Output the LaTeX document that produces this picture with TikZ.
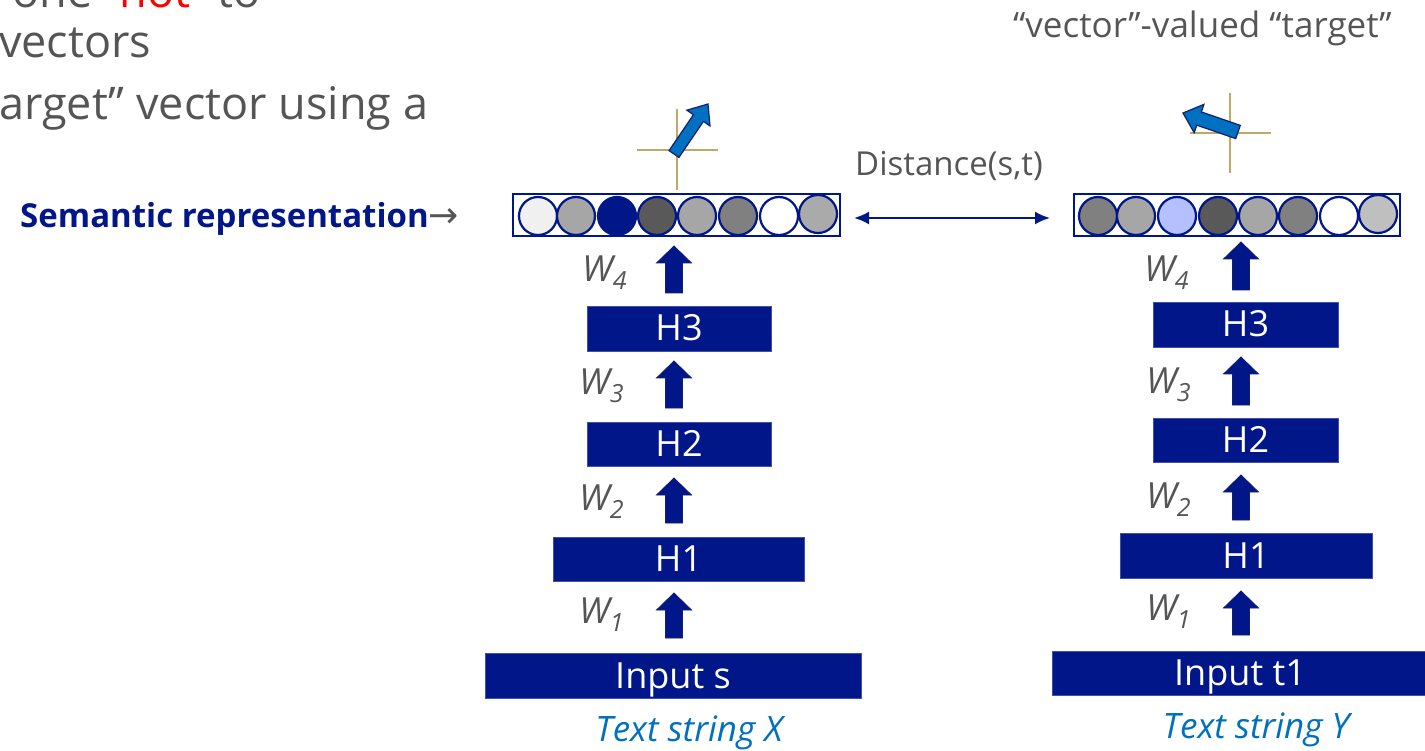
\documentclass[tikz,border=0pt]{standalone}
\usepackage{fontspec}
\setmainfont{Open Sans}
\newfontfamily\arrowfont{DejaVu Sans}
\usetikzlibrary{calc,arrows.meta}

\definecolor{navyfill}{RGB}{0,22,137}
\definecolor{navyedge}{RGB}{20,30,110}
\definecolor{inkgray}{RGB}{85,85,85}
\definecolor{hotred}{RGB}{255,0,0}
\definecolor{skyblue}{RGB}{0,112,192}
\definecolor{axistan}{RGB}{191,169,105}
\definecolor{paleblue}{RGB}{180,192,255}
\definecolor{g240}{RGB}{240,240,240}
\definecolor{g191}{RGB}{191,191,191}
\definecolor{g170}{RGB}{170,170,170}
\definecolor{g166}{RGB}{166,166,166}
\definecolor{g128}{RGB}{128,128,128}
\definecolor{g89}{RGB}{89,89,89}

\tikzset{
  layer/.style={fill=navyfill, draw=navyfill!75!white, line width=0.8pt,
    text=white, inner sep=0pt, text height=25pt, text depth=0pt,
    font=\fontsize{36}{36}\selectfont},
  vecbox/.style={draw=navyfill, fill=white, line width=2pt, inner sep=0pt},
  bead/.style={circle, draw=navyfill, line width=2.2pt, minimum size=38pt, inner sep=0pt},
  liftarrow/.style={fill=navyfill, draw=navyedge, line width=0.8pt, line join=miter},
  vecarrow/.style={fill=skyblue, draw=navyedge, line width=1.2pt, line join=miter},
  axis/.style={draw=axistan, line width=1.6pt},
  slidetext/.style={anchor=base west, inner sep=0pt, text=inkgray,
    font=\fontsize{45}{45}\selectfont},
  wlabel/.style={anchor=base west, inner sep=0pt, text=inkgray,
    font=\fontsize{36}{36}\selectfont\itshape},
  caption/.style={anchor=base, inner sep=0pt, text=skyblue,
    font=\fontsize{35}{35}\selectfont\itshape},
  distarrow/.style={draw=navyfill, line width=2.2pt,
    {Latex[length=15pt,width=13pt]}-{Latex[length=15pt,width=13pt]}},
}

% weight label W with a lowered index
\newcommand\wsub[1]{W\raisebox{-8pt}{\fontsize{25}{25}\selectfont #1}}

% upward block arrow: x, tip y, bottom y
\newcommand\liftup[3]{%
  \filldraw[liftarrow] (#1-17.5,#2+17) -- (#1,#2) -- (#1+17.5,#2+17)
    -- (#1+8.5,#2+17) -- (#1+8.5,#3) -- (#1-8.5,#3) -- (#1-8.5,#2+17) -- cycle;}

% slanted block arrow: tail, tip, half shaft, half head, head length
\newcommand\tiltarrow[5]{%
  \coordinate (ta-T) at #1; \coordinate (ta-P) at #2;
  \coordinate (ta-H) at ($(ta-P)!#5!(ta-T)$);
  \filldraw[vecarrow] ($(ta-T)!#3!90:(ta-P)$) -- ($(ta-H)!#3!90:(ta-P)$)
    -- ($(ta-H)!#4!90:(ta-P)$) -- (ta-P) -- ($(ta-H)!#4!-90:(ta-P)$)
    -- ($(ta-H)!#3!-90:(ta-P)$) -- ($(ta-T)!#3!-90:(ta-P)$) -- cycle;}

\begin{document}
\begin{tikzpicture}[x=1pt,y=-1pt]
\useasboundingbox (0,0) rectangle (1425,751);
\clip (0,0) rectangle (1425,751);

% bullet text running in from the left
\node[slidetext] (line1) at (12,8) {one “\textcolor{hotred}{hot}” to};
\node[slidetext] (line2) at (-1,58) {vectors};
\node[slidetext] (line3) at (-1,120) {arget” vector using a};

\node[anchor=base west, inner sep=0pt, text=inkgray,
  font=\fontsize{35}{35}\selectfont] (target) at (1013,38) {“vector”-valued “target”};

\node[anchor=base west, inner sep=0pt, font=\fontsize{33}{33}\selectfont\bfseries,
  text=navyfill] (semrep) at (20,228)
  {Semantic representation{\mdseries\color{inkgray}\arrowfont\fontsize{36}{36}\selectfont →}};

% ---------- left tower ----------
\node[vecbox, minimum width=327pt, minimum height=42pt] (vecL) at (676.5,215) {};
\foreach \cx/\cy/\col [count=\i] in {538/216/g240, 576/216/g166, 617/216/navyfill,
    657/216/g89, 697/216/g166, 738/216/g128, 779/216/white, 818/214/g170}
  \node[bead, fill=\col] (beadL\i) at (\cx,\cy) {};

\node[layer, minimum width=184pt, minimum height=45pt] (h3L) at (679,328.5) {H3};
\node[layer, minimum width=184pt, minimum height=44pt] (h2L) at (679,444) {H2};
\node[layer, minimum width=251pt, minimum height=44pt] (h1L) at (678.5,559) {H1};
\node[layer, minimum width=376pt, minimum height=45pt] (inL) at (673,675.5) {Input s};

\liftup{674}{246}{293}
\liftup{674}{361}{408}
\liftup{674}{478}{523}
\liftup{674}{593}{638}

\node[wlabel] (w4L) at (582,282) {\wsub{4}};
\node[wlabel] (w3L) at (579,395) {\wsub{3}};
\node[wlabel] (w2L) at (579,510) {\wsub{2}};
\node[wlabel] (w1L) at (579,623) {\wsub{1}};

\node[caption] (capL) at (689,741) {Text string X};

\draw[axis] (677,109) -- (677,190);
\draw[axis] (637,150) -- (718,150);
\tiltarrow{(674,154)}{(708,104)}{6pt}{14pt}{17pt}

% ---------- right tower ----------
\node[vecbox, minimum width=326pt, minimum height=42pt] (vecR) at (1237,215) {};
\foreach \cx/\cy/\col [count=\i] in {1098/216/g128, 1136/216/g166, 1177/216/paleblue,
    1218/216/g89, 1258/216/g166, 1298/216/g128, 1339/216/white, 1378/214/g191}
  \node[bead, fill=\col] (beadR\i) at (\cx,\cy) {};

\node[layer, minimum width=185pt, minimum height=45pt] (h3R) at (1245.5,324.5) {H3};
\node[layer, minimum width=185pt, minimum height=44pt] (h2R) at (1245.5,440) {H2};
\node[layer, minimum width=252pt, minimum height=45pt] (h1R) at (1246,555.5) {H1};
\node[layer, minimum width=376pt, minimum height=44pt] (inR) at (1240,673) {Input t1};

\liftup{1241}{242}{290}
\liftup{1241}{357}{405}
\liftup{1241}{475}{520}
\liftup{1241}{591}{635}

\node[wlabel] (w4R) at (1144,282) {\wsub{4}};
\node[wlabel] (w3R) at (1146,393) {\wsub{3}};
\node[wlabel] (w2R) at (1146,508) {\wsub{2}};
\node[wlabel] (w1R) at (1146,620) {\wsub{1}};

\node[caption] (capR) at (1256,738) {Text string Y};

\draw[axis] (1230,93) -- (1230,173);
\draw[axis] (1190,133) -- (1271,133);
\tiltarrow{(1238,132)}{(1183,113)}{7pt}{15pt}{17pt}

% ---------- distance between the two representations ----------
\node[anchor=base west, inner sep=0pt, text=inkgray,
  font=\fontsize{33}{33}\selectfont] (dist) at (855,176) {Distance(s,t)};
\draw[distarrow, shorten <=13pt, shorten >=23pt]
  ([yshift=-3pt]vecL.east) -- ([yshift=-3pt]vecR.west);
\end{tikzpicture}
\end{document}
